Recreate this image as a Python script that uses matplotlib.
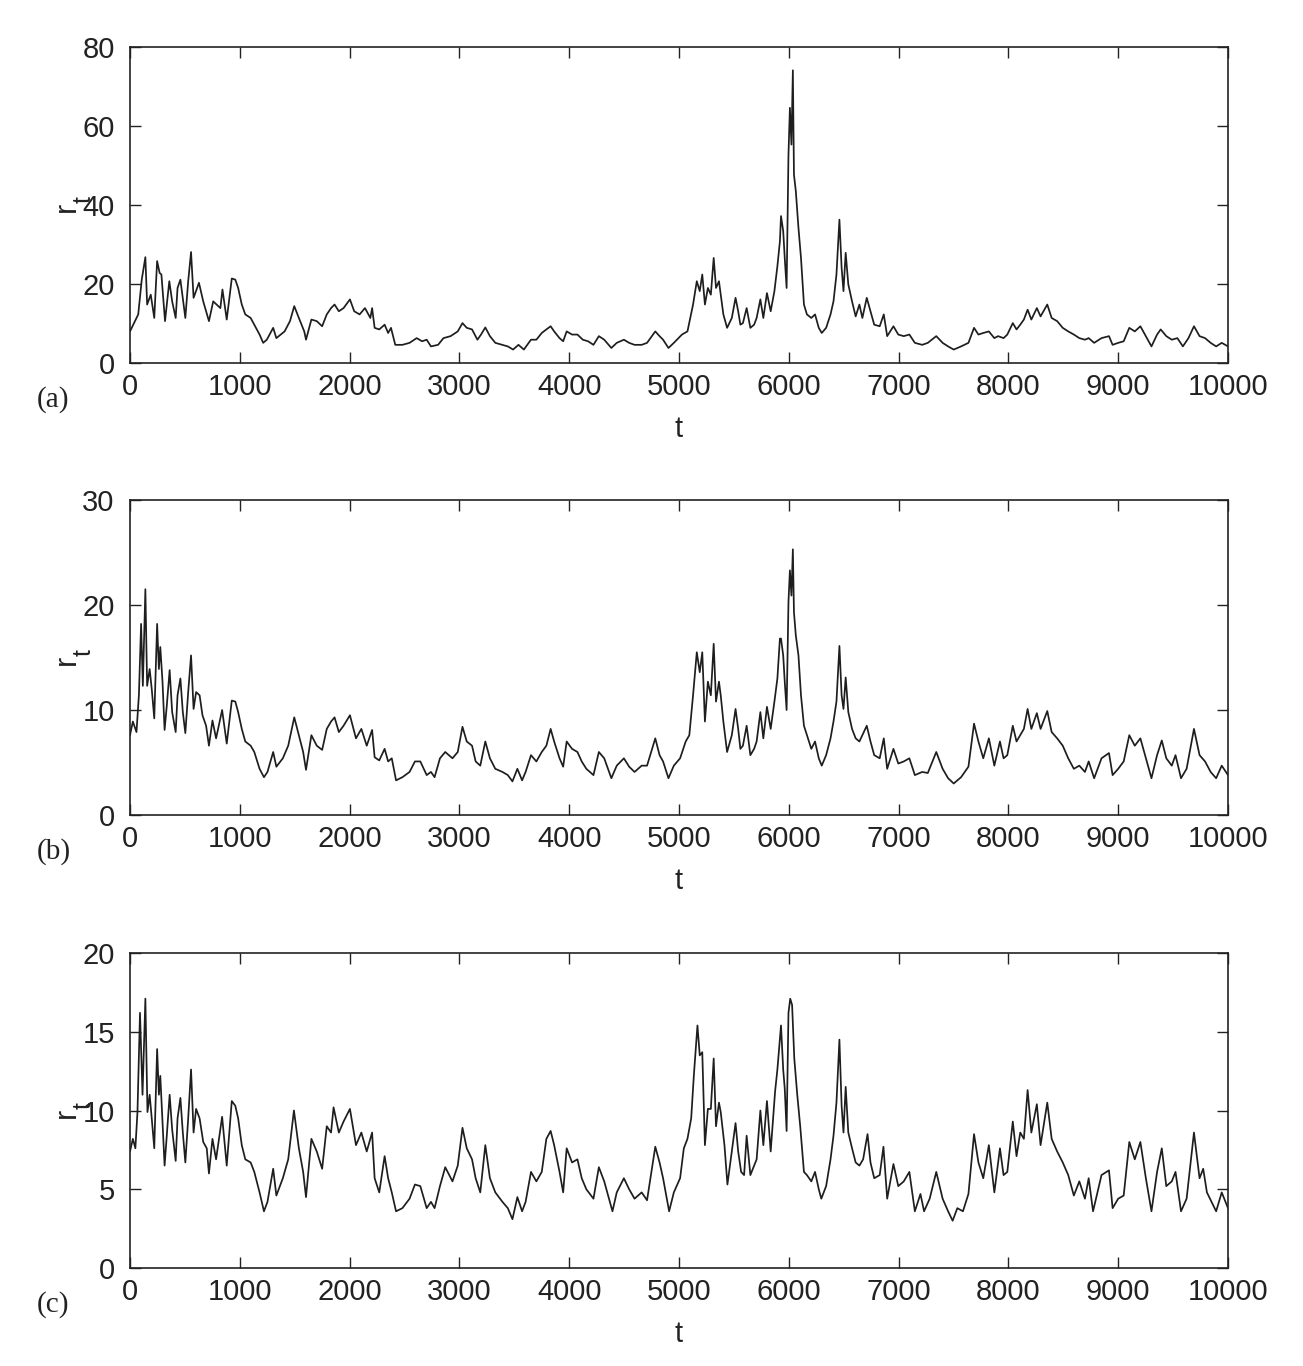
import matplotlib
matplotlib.use("Agg")
import matplotlib.pyplot as plt

plt.rcParams['font.family'] = ['Liberation Sans', 'DejaVu Sans']

# ---------------- data ----------------
t_a = [0, 75, 107, 140, 156, 189, 221, 247, 270, 286, 319, 358, 384, 416, 433, 459, 504, 530, 556, 579,
       628, 667, 719, 758, 823, 842, 881, 927, 959, 985, 1018, 1050, 1099, 1132, 1180, 1213, 1246, 1304, 1333, 1408,
       1457, 1496, 1538, 1587, 1603, 1652, 1701, 1750, 1792, 1831, 1863, 1902, 1945, 2003, 2042, 2091, 2140, 2189, 2205, 2228,
       2270, 2319, 2351, 2377, 2416, 2481, 2546, 2611, 2660, 2702, 2741, 2806, 2855, 2920, 2985, 3028, 3067, 3115, 3164, 3197,
       3236, 3278, 3327, 3392, 3441, 3489, 3538, 3587, 3652, 3701, 3750, 3792, 3831, 3863, 3912, 3945, 3977, 4026, 4075, 4124,
       4172, 4221, 4270, 4319, 4384, 4433, 4498, 4546, 4595, 4660, 4709, 4784, 4823, 4855, 4904, 4953,
       5027, 5077, 5128, 5162, 5189, 5212, 5236, 5263, 5290, 5316, 5337, 5364, 5380, 5404, 5438, 5481, 5515, 5539, 5559, 5582,
       5616, 5650, 5684, 5707, 5741, 5768, 5801, 5835, 5869, 5896, 5919, 5929, 5949, 5963, 5980, 5997, 6010, 6024, 6037, 6047,
       6064, 6088, 6111, 6138, 6165, 6205, 6239, 6273, 6300, 6340, 6380, 6407, 6434, 6461, 6481, 6498, 6518, 6542, 6576, 6609,
       6643, 6670, 6710, 6744, 6778, 6828, 6865, 6896, 6953, 6997, 7047, 7098, 7148, 7215, 7266, 7343, 7401, 7451, 7502, 7569,
       7636, 7687, 7727, 7771, 7822, 7872, 7906, 7956, 7990, 8040, 8074, 8108, 8141, 8175, 8209, 8259, 8293, 8354, 8394, 8444,
       8495, 8545, 8596, 8646, 8697, 8731, 8781, 8848, 8916, 8949, 9000, 9050, 9101, 9151, 9202, 9252, 9303, 9354, 9387, 9438,
       9488, 9539, 9589, 9640, 9690, 9741, 9791, 9842, 9892, 9943, 10000]
r_a = [8.0, 12.3, 21.1, 26.8, 14.8, 17.3, 11.4, 25.8, 22.8, 22.4, 10.6, 20.7, 15.6, 11.4, 19.0, 21.1, 11.4, 20.7, 28.1, 16.5,
       20.3, 15.6, 10.6, 15.6, 13.9, 18.6, 11.0, 21.4, 21.1, 19.0, 14.8, 12.3, 11.4, 9.7, 7.2, 5.1, 5.9, 8.9, 6.3, 8.0,
       10.6, 14.4, 11.4, 8.0, 5.9, 11.0, 10.6, 9.3, 12.3, 13.9, 14.8, 13.1, 13.9, 16.1, 13.1, 12.3, 13.9, 11.4, 13.9, 8.9,
       8.5, 9.7, 7.6, 8.9, 4.6, 4.6, 5.1, 6.3, 5.5, 5.9, 4.2, 4.6, 6.3, 6.8, 8.0, 10.1, 8.9, 8.5, 5.9, 7.2,
       9.0, 6.8, 5.1, 4.6, 4.2, 3.4, 4.6, 3.4, 5.9, 5.9, 7.6, 8.5, 9.3, 8.0, 6.3, 5.5, 8.0, 7.2, 7.2, 5.9,
       5.5, 4.6, 6.8, 5.9, 3.8, 5.1, 5.9, 5.1, 4.6, 4.6, 5.1, 8.0, 6.8, 5.9, 3.8, 5.1,
       7.2, 8.0, 14.8, 20.7, 18.2, 22.4, 14.8, 19.0, 17.3, 26.6, 19.0, 20.7, 17.3, 12.3, 8.9, 11.4, 16.5, 13.1, 9.7, 10.1,
       13.9, 8.9, 9.7, 11.4, 16.1, 11.4, 17.7, 13.1, 18.2, 24.5, 30.8, 37.2, 33.4, 26.6, 19.0, 52.8, 64.6, 55.3, 74.1, 47.7,
       43.5, 34.2, 26.6, 14.8, 12.3, 11.4, 12.3, 8.9, 7.6, 8.9, 12.3, 15.6, 22.4, 36.3, 24.1, 18.2, 27.9, 19.9, 15.6, 11.8,
       14.8, 11.4, 16.5, 13.1, 9.7, 9.3, 12.3, 6.8, 9.3, 7.2, 6.8, 7.2, 5.1, 4.6, 5.1, 6.8, 5.1, 4.2, 3.4, 4.2,
       5.1, 8.9, 7.2, 7.6, 8.0, 6.3, 6.8, 6.3, 7.2, 10.1, 8.5, 9.7, 11.0, 13.5, 11.0, 13.9, 11.8, 14.8, 11.4, 10.6,
       8.9, 8.0, 7.2, 6.3, 5.9, 6.3, 5.1, 6.3, 6.8, 4.6, 5.1, 5.5, 8.9, 8.0, 9.3, 6.8, 4.2, 7.2, 8.5, 6.8,
       5.9, 6.3, 4.2, 6.3, 9.3, 6.8, 6.3, 5.1, 4.2, 5.1, 4.2]

t_b = [0, 26, 59, 81, 101, 117, 140, 156, 179, 198, 221, 247, 263, 276, 296, 315, 335, 361, 384, 416,
       433, 459, 481, 504, 530, 556, 579, 602, 634, 660, 693, 719, 751, 784, 839, 881, 927, 959, 985, 1018,
       1050, 1099, 1132, 1180, 1220, 1252, 1304, 1333, 1392, 1441, 1496, 1538, 1577, 1603, 1652, 1701, 1750, 1792, 1831, 1863,
       1902, 1945, 2003, 2058, 2107, 2156, 2205, 2228, 2270, 2319, 2351, 2384, 2423, 2481, 2546, 2595, 2644, 2702, 2741, 2774,
       2823, 2871, 2937, 2985, 3028, 3067, 3115, 3148, 3190, 3236, 3278, 3327, 3392, 3441, 3483, 3528, 3571, 3603, 3652, 3701,
       3750, 3792, 3831, 3863, 3912, 3945, 3977, 4026, 4075, 4114, 4156, 4221, 4270, 4319, 4384, 4433, 4498, 4546, 4595, 4660,
       4709, 4784, 4823, 4855, 4904, 4953,
       5010, 5061, 5094, 5128, 5162, 5189, 5212, 5236, 5263, 5290, 5316, 5337, 5364, 5380, 5404, 5438, 5481, 5515, 5539, 5559,
       5582, 5616, 5650, 5684, 5707, 5741, 5768, 5801, 5835, 5869, 5896, 5919, 5929, 5949, 5963, 5980, 5997, 6010, 6024, 6037,
       6047, 6064, 6088, 6111, 6138, 6165, 6205, 6239, 6273, 6300, 6340, 6380, 6407, 6434, 6461, 6481, 6498, 6518, 6542, 6576,
       6609, 6643, 6670, 6710, 6744, 6778, 6828, 6865, 6896, 6953, 6997, 7047, 7098, 7148, 7215, 7266, 7343, 7401, 7451, 7502,
       7569, 7636, 7687, 7727, 7771, 7822, 7872, 7923, 7956, 7990, 8040, 8074, 8108, 8141, 8175, 8209, 8259, 8293, 8354, 8394,
       8444, 8495, 8545, 8596, 8646, 8697, 8731, 8781, 8848, 8916, 8949, 9000, 9050, 9101, 9151, 9202, 9252, 9303, 9354, 9397,
       9438, 9488, 9522, 9572, 9623, 9690, 9741, 9791, 9842, 9892, 9943, 10000]
r_b = [7.6, 8.9, 7.9, 11.4, 18.2, 12.3, 21.5, 12.3, 13.9, 12.0, 9.2, 18.2, 13.9, 16.0, 12.7, 8.1, 10.4, 13.8, 9.8, 7.9,
       11.4, 13.0, 9.8, 7.8, 11.7, 15.2, 10.1, 11.7, 11.4, 9.5, 8.5, 6.6, 9.0, 7.3, 10.0, 6.8, 10.9, 10.8, 9.8, 8.2,
       7.0, 6.6, 6.0, 4.4, 3.6, 4.1, 6.0, 4.6, 5.4, 6.6, 9.3, 7.6, 6.0, 4.3, 7.6, 6.6, 6.2, 8.2, 8.9, 9.3,
       7.9, 8.5, 9.5, 7.3, 8.2, 6.6, 8.1, 5.5, 5.2, 6.3, 5.1, 5.4, 3.3, 3.6, 4.1, 5.1, 5.1, 3.8, 4.1, 3.6,
       5.4, 6.0, 5.4, 6.0, 8.4, 7.0, 6.6, 5.1, 4.7, 7.0, 5.4, 4.4, 4.1, 3.8, 3.2, 4.4, 3.3, 4.1, 5.7, 5.1,
       6.0, 6.6, 8.2, 7.0, 5.4, 4.6, 7.0, 6.3, 6.0, 5.1, 4.4, 3.8, 6.0, 5.4, 3.5, 4.7, 5.4, 4.6, 4.1, 4.7,
       4.7, 7.3, 5.7, 5.1, 3.5, 4.7,
       5.4, 7.0, 7.6, 11.4, 15.5, 13.6, 15.5, 8.9, 12.7, 11.4, 16.3, 10.8, 12.7, 11.4, 8.9, 6.0, 7.6, 10.1, 8.2, 6.3,
       6.6, 8.5, 5.7, 6.3, 7.0, 9.8, 7.3, 10.3, 8.2, 10.8, 13.0, 16.8, 16.8, 15.2, 12.7, 10.0, 20.3, 23.3, 20.9, 25.3,
       19.3, 17.1, 15.2, 11.4, 8.5, 7.6, 6.3, 7.0, 5.4, 4.7, 5.7, 7.3, 8.9, 10.8, 16.1, 11.4, 10.1, 13.1, 9.8, 8.2,
       7.3, 7.0, 7.6, 8.5, 7.0, 5.7, 5.4, 7.3, 4.4, 6.3, 4.9, 5.1, 5.4, 3.8, 4.1, 4.0, 6.0, 4.4, 3.5, 3.0,
       3.6, 4.6, 8.7, 7.0, 5.4, 7.3, 4.7, 7.0, 5.4, 5.7, 8.5, 7.0, 7.6, 8.2, 10.1, 8.2, 9.7, 8.2, 9.9, 7.9,
       7.3, 6.6, 5.4, 4.4, 4.7, 4.1, 5.1, 3.5, 5.4, 5.9, 3.8, 4.4, 5.1, 7.6, 6.6, 7.3, 5.4, 3.5, 5.7, 7.1,
       5.4, 4.7, 5.7, 3.5, 4.4, 8.2, 5.7, 5.1, 4.1, 3.5, 4.7, 3.8]

t_c = [0, 26, 49, 68, 91, 114, 140, 159, 179, 198, 221, 247, 263, 276, 296, 315, 335, 361, 384, 416,
       433, 459, 481, 504, 530, 556, 579, 602, 634, 667, 699, 719, 751, 784, 839, 881, 927, 959, 985, 1018,
       1050, 1099, 1132, 1180, 1220, 1252, 1304, 1333, 1392, 1441, 1493, 1538, 1577, 1603, 1652, 1701, 1750, 1792, 1831, 1854,
       1902, 1945, 2003, 2058, 2107, 2156, 2205, 2228, 2270, 2319, 2351, 2384, 2423, 2481, 2546, 2595, 2644, 2702, 2741, 2774,
       2823, 2871, 2937, 2985, 3028, 3067, 3115, 3148, 3190, 3236, 3278, 3327, 3392, 3441, 3483, 3528, 3571, 3603, 3652, 3701,
       3750, 3792, 3831, 3863, 3912, 3945, 3977, 4026, 4075, 4114, 4156, 4221, 4270, 4319, 4394, 4433, 4498, 4546, 4595, 4660,
       4709, 4784, 4823, 4855, 4910, 4953,
       5010, 5044, 5077, 5111, 5135, 5168, 5189, 5212, 5236, 5263, 5290, 5316, 5337, 5364, 5380, 5414, 5441, 5481, 5515, 5539,
       5566, 5593, 5616, 5650, 5684, 5707, 5741, 5768, 5801, 5835, 5875, 5896, 5929, 5949, 5963, 5980, 5997, 6013, 6030, 6050,
       6077, 6104, 6138, 6165, 6205, 6239, 6273, 6296, 6340, 6380, 6407, 6434, 6461, 6481, 6498, 6518, 6542, 6576, 6609, 6643,
       6677, 6717, 6744, 6778, 6828, 6862, 6896, 6953, 6997, 7047, 7098, 7148, 7199, 7232, 7283, 7343, 7401, 7451, 7492, 7535,
       7586, 7636, 7687, 7727, 7771, 7822, 7872, 7923, 7956, 7990, 8040, 8074, 8108, 8141, 8175, 8209, 8259, 8293, 8354, 8394,
       8444, 8495, 8545, 8596, 8646, 8697, 8731, 8771, 8848, 8916, 8949, 9000, 9050, 9101, 9151, 9202, 9252, 9303, 9354, 9397,
       9438, 9488, 9522, 9572, 9623, 9690, 9741, 9774, 9808, 9892, 9943, 10000]
r_c = [7.4, 8.2, 7.6, 9.9, 16.2, 11.0, 17.1, 9.9, 11.0, 9.5, 7.6, 13.9, 11.0, 12.2, 9.3, 6.5, 8.4, 11.0, 8.8, 6.8,
       9.5, 10.8, 8.6, 6.7, 9.5, 12.6, 8.6, 10.1, 9.5, 8.0, 7.6, 6.0, 8.2, 6.9, 9.6, 6.5, 10.6, 10.3, 9.5, 7.8,
       6.9, 6.7, 6.1, 4.8, 3.6, 4.2, 6.3, 4.6, 5.7, 6.9, 10.0, 7.6, 6.1, 4.5, 8.2, 7.4, 6.3, 9.0, 8.6, 10.2,
       8.6, 9.3, 10.1, 7.8, 8.6, 7.4, 8.6, 5.7, 4.8, 7.1, 5.7, 4.8, 3.6, 3.8, 4.4, 5.3, 5.2, 3.8, 4.2, 3.8,
       5.2, 6.4, 5.5, 6.5, 8.9, 7.6, 6.9, 5.7, 4.8, 7.8, 5.7, 4.8, 4.2, 3.8, 3.1, 4.5, 3.6, 4.2, 6.1, 5.5,
       6.1, 8.2, 8.7, 7.8, 6.1, 4.8, 7.6, 6.7, 6.9, 5.7, 5.0, 4.4, 6.4, 5.5, 3.6, 4.8, 5.7, 5.0, 4.4, 4.8,
       4.3, 7.7, 6.7, 5.7, 3.6, 4.8,
       5.7, 7.6, 8.2, 9.5, 12.2, 15.4, 13.5, 13.7, 7.8, 10.1, 10.1, 13.3, 9.0, 10.5, 9.9, 7.8, 5.3, 7.4, 9.2, 7.4,
       6.1, 5.9, 8.4, 5.9, 6.5, 6.9, 10.0, 7.8, 10.6, 7.4, 11.2, 12.6, 15.4, 12.6, 11.4, 8.7, 16.2, 17.1, 16.7, 13.3,
       11.0, 9.0, 6.1, 5.9, 5.5, 6.1, 5.0, 4.4, 5.2, 6.9, 8.4, 10.5, 14.5, 10.3, 8.6, 11.5, 8.6, 7.6, 6.7, 6.5,
       6.9, 8.5, 6.7, 5.7, 5.9, 7.7, 4.4, 6.6, 5.2, 5.5, 6.1, 3.6, 4.7, 3.6, 4.4, 6.1, 4.4, 3.6, 3.0, 3.8,
       3.6, 4.7, 8.5, 6.7, 5.7, 7.8, 4.8, 7.6, 5.9, 6.1, 9.3, 7.1, 8.6, 8.2, 11.3, 8.6, 10.4, 7.8, 10.5, 8.2,
       7.4, 6.7, 5.9, 4.6, 5.5, 4.4, 5.7, 3.6, 5.9, 6.2, 3.8, 4.4, 4.6, 8.0, 6.9, 8.0, 5.7, 3.6, 6.1, 7.6,
       5.2, 5.5, 6.1, 3.6, 4.4, 8.6, 5.7, 6.3, 4.8, 3.6, 4.8, 3.8]

panels = [
    (t_a, r_a, [0, 20, 40, 60, 80], "(a)"),
    (t_b, r_b, [0, 10, 20, 30], "(b)"),
    (t_c, r_c, [0, 5, 10, 15, 20], "(c)"),
]
x_ticks = [0, 1000, 2000, 3000, 4000, 5000, 6000, 7000, 8000, 9000, 10000]

# ---------------- figure ----------------
W, H = 1303, 1366
fig = plt.figure(figsize=(W / 100, H / 100), dpi=100)

# axes boxes in pixels: (left, top, right, bottom)
boxes = [(130, 47, 1228, 363), (130, 500, 1228, 815), (130, 953, 1228, 1268)]
ink = '#222222'

for (t, r, yt, tag), (l, tp, rt, bt) in zip(panels, boxes):
    ax = fig.add_axes([l / W, 1 - bt / H, (rt - l) / W, (bt - tp) / H])
    ax.plot(t, r, color='#1e1e1e', lw=1.25)
    ax.set_xlim(0, 10000)
    ax.set_ylim(yt[0], yt[-1])
    ax.set_xticks(x_ticks)
    ax.set_yticks(yt)
    ax.tick_params(direction='in', length=8, width=1.0, top=True, right=True,
                   labelsize=21, colors=ink)
    ax.tick_params(axis='x', pad=7)
    ax.tick_params(axis='y', pad=11)
    for s in ax.spines.values():
        s.set_linewidth(1.2)
        s.set_color(ink)
    ax.set_xlabel('t', fontsize=21, color=ink)
    ax.xaxis.set_label_coords(0.5, -0.165)
    # y label "r" with a dropped subscript "t" (MATLAB style)
    ylab = ax.set_ylabel('r', fontsize=22, color=ink)
    ylab.set_verticalalignment('baseline')
    ax.yaxis.set_label_coords(-0.050, 0.494)
    ax.text(-0.0355, 0.516, 't', transform=ax.transAxes, fontsize=18, color=ink,
            rotation=90, rotation_mode='anchor', ha='center', va='baseline')
    ax.text(-0.085, -0.115, tag, transform=ax.transAxes, fontsize=21,
            family=['Liberation Serif', 'DejaVu Serif'], color=ink,
            ha='left', va='center')

fig.savefig('out.png', dpi=100, facecolor='white')
